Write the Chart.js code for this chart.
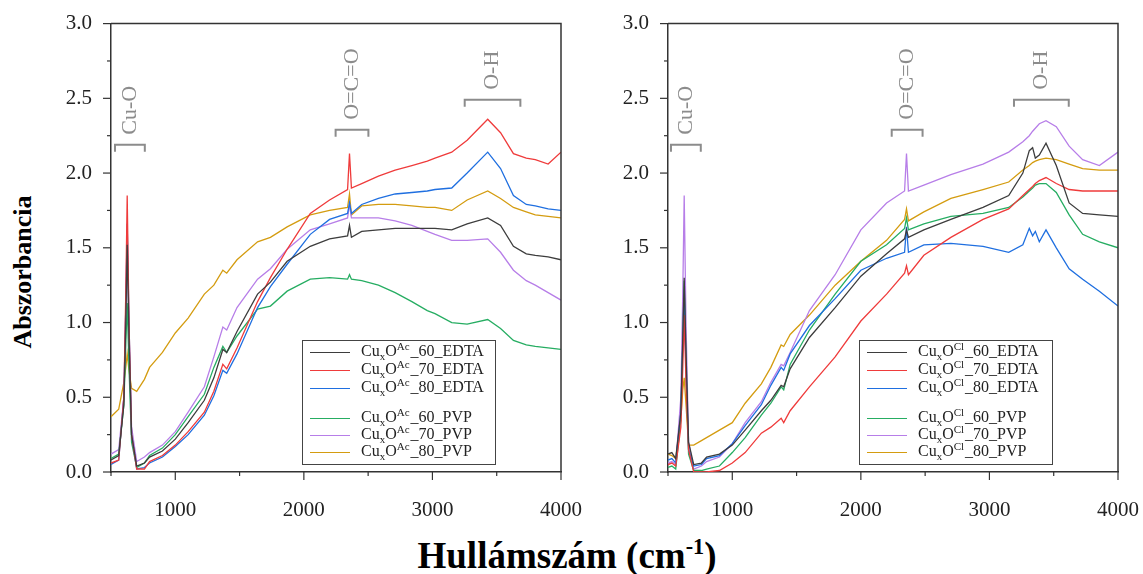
<!DOCTYPE html>
<html>
<head>
<meta charset="utf-8">
<script src="https://cdn.jsdelivr.net/npm/chart.js@4.4.0/dist/chart.umd.min.js"></script>
<style>
  body { margin: 0; background: #fff; width: 1143px; height: 574px; position: relative; overflow: hidden; font-family: "Liberation Serif", serif; }
  .panel { position: absolute; top: 0; width: 560px; height: 520px; }
  #ylab { position: absolute; left: 23px; top: 272px; transform: translate(-50%, -50%) rotate(-90deg); font-weight: bold; font-size: 26px; white-space: nowrap; }
  #xlab { position: absolute; left: 567px; top: 555px; transform: translate(-50%, -50%); font-weight: bold; font-size: 37px; white-space: nowrap; }
  #xlab sup { font-size: 60%; }
</style>
</head>
<body>
<div class="panel" style="left:40px"><canvas id="chartAc"></canvas></div>
<div class="panel" style="left:597px"><canvas id="chartCl"></canvas></div>
<div id="ylab">Abszorbancia</div>
<div id="xlab">Hullámszám (cm<sup>-1</sup>)</div>

<script>
// FTIR spectra, CuxO samples (left: acetate precursor, right: chloride precursor)

const xTicks = [1000, 2000, 3000, 4000];
const yTicks = [0, 0.5, 1.0, 1.5, 2.0, 2.5, 3.0];
const seriesNames = ['60_EDTA', '70_EDTA', '80_EDTA', '60_PVP', '70_PVP', '80_PVP'];
const seriesColors = ['#3d3d3d', '#ef3b3b', '#1f6fe0', '#26ad62', '#b77ee8', '#d49c10'];

// --- acetate panel ---
const wavenumbersAc = [500, 560, 600, 615, 626, 640, 660, 700, 760, 800, 900, 1000, 1100, 1226, 1300, 1370, 1400, 1480, 1640, 1740, 1870, 2050, 2200, 2340, 2355, 2370, 2450, 2580, 2710, 2840, 2960, 3020, 3150, 3270, 3430, 3530, 3630, 3730, 3800, 3900, 4000];
const ac60Edta = [0.08, 0.11, 0.45, 1.00, 1.52, 0.90, 0.25, 0.04, 0.06, 0.10, 0.14, 0.22, 0.33, 0.48, 0.63, 0.82, 0.80, 0.94, 1.19, 1.27, 1.41, 1.51, 1.56, 1.58, 1.65, 1.57, 1.61, 1.62, 1.63, 1.63, 1.63, 1.63, 1.62, 1.66, 1.70, 1.65, 1.51, 1.46, 1.45, 1.44, 1.42];
const ac70Edta = [0.06, 0.08, 0.50, 1.20, 1.85, 1.00, 0.25, 0.02, 0.02, 0.07, 0.11, 0.18, 0.27, 0.40, 0.54, 0.72, 0.69, 0.83, 1.14, 1.30, 1.49, 1.73, 1.82, 1.89, 2.13, 1.90, 1.93, 1.98, 2.02, 2.05, 2.08, 2.10, 2.14, 2.22, 2.36, 2.27, 2.13, 2.10, 2.09, 2.06, 2.14];
const ac80Edta = [0.05, 0.08, 0.50, 1.10, 1.66, 1.00, 0.25, 0.02, 0.03, 0.06, 0.10, 0.17, 0.25, 0.38, 0.51, 0.68, 0.66, 0.79, 1.10, 1.24, 1.39, 1.59, 1.69, 1.73, 1.80, 1.73, 1.79, 1.83, 1.86, 1.87, 1.88, 1.89, 1.90, 2.00, 2.14, 2.03, 1.85, 1.79, 1.78, 1.76, 1.75];
const ac60Pvp = [0.09, 0.12, 0.45, 0.85, 1.13, 0.70, 0.20, 0.03, 0.06, 0.11, 0.16, 0.25, 0.37, 0.52, 0.70, 0.84, 0.80, 0.91, 1.09, 1.11, 1.21, 1.29, 1.30, 1.29, 1.32, 1.29, 1.28, 1.25, 1.20, 1.14, 1.08, 1.06, 1.00, 0.99, 1.02, 0.96, 0.88, 0.85, 0.84, 0.83, 0.82];
const ac70Pvp = [0.12, 0.15, 0.50, 1.10, 1.60, 0.95, 0.30, 0.07, 0.10, 0.13, 0.18, 0.27, 0.40, 0.57, 0.77, 0.97, 0.95, 1.10, 1.29, 1.36, 1.49, 1.62, 1.66, 1.70, 1.79, 1.70, 1.70, 1.70, 1.68, 1.65, 1.61, 1.59, 1.55, 1.55, 1.56, 1.47, 1.35, 1.28, 1.25, 1.20, 1.15];
const ac80Pvp = [0.37, 0.42, 0.60, 0.70, 0.79, 0.68, 0.56, 0.54, 0.62, 0.70, 0.80, 0.93, 1.03, 1.19, 1.25, 1.35, 1.33, 1.42, 1.54, 1.57, 1.64, 1.72, 1.75, 1.77, 1.86, 1.72, 1.78, 1.79, 1.79, 1.78, 1.77, 1.77, 1.75, 1.82, 1.88, 1.83, 1.77, 1.74, 1.72, 1.71, 1.70];

// --- chloride panel ---
const wavenumbersCl = [500, 530, 560, 600, 615, 626, 640, 660, 700, 760, 800, 900, 1000, 1100, 1226, 1300, 1380, 1400, 1450, 1600, 1800, 2000, 2200, 2340, 2355, 2370, 2490, 2700, 2950, 3150, 3260, 3310, 3336, 3357, 3388, 3440, 3520, 3620, 3725, 3855, 4000];
const cl60Edta = [0.12, 0.13, 0.09, 0.40, 0.90, 1.30, 0.80, 0.20, 0.05, 0.06, 0.10, 0.12, 0.18, 0.28, 0.41, 0.48, 0.58, 0.57, 0.69, 0.90, 1.10, 1.31, 1.46, 1.56, 1.62, 1.57, 1.62, 1.69, 1.77, 1.85, 2.00, 2.15, 2.17, 2.10, 2.12, 2.20, 2.05, 1.80, 1.73, 1.72, 1.71];
const cl70Edta = [0.05, 0.06, 0.04, 0.30, 0.70, 1.05, 0.60, 0.15, 0.00, 0.00, 0.00, 0.01, 0.06, 0.13, 0.26, 0.30, 0.36, 0.33, 0.41, 0.57, 0.77, 1.01, 1.19, 1.33, 1.38, 1.32, 1.45, 1.57, 1.69, 1.76, 1.85, 1.89, 1.91, 1.93, 1.95, 1.97, 1.93, 1.89, 1.88, 1.88, 1.88];
const cl80Edta = [0.08, 0.09, 0.06, 0.40, 0.85, 1.22, 0.70, 0.15, 0.04, 0.05, 0.09, 0.11, 0.19, 0.31, 0.45, 0.58, 0.70, 0.68, 0.79, 0.98, 1.16, 1.35, 1.43, 1.47, 1.64, 1.47, 1.52, 1.53, 1.51, 1.47, 1.52, 1.63, 1.58, 1.61, 1.54, 1.62, 1.50, 1.36, 1.29, 1.21, 1.11];
const cl60Pvp = [0.03, 0.04, 0.02, 0.35, 0.85, 1.28, 0.70, 0.12, 0.01, 0.01, 0.02, 0.04, 0.13, 0.23, 0.38, 0.46, 0.57, 0.55, 0.72, 0.95, 1.19, 1.41, 1.52, 1.63, 1.70, 1.62, 1.66, 1.71, 1.73, 1.77, 1.84, 1.88, 1.90, 1.92, 1.93, 1.93, 1.87, 1.72, 1.59, 1.54, 1.50];
const cl70Pvp = [0.06, 0.07, 0.05, 0.50, 1.20, 1.85, 1.00, 0.20, 0.02, 0.04, 0.07, 0.10, 0.19, 0.33, 0.47, 0.60, 0.72, 0.71, 0.80, 1.08, 1.32, 1.62, 1.80, 1.88, 2.13, 1.88, 1.92, 1.99, 2.06, 2.14, 2.21, 2.25, 2.28, 2.30, 2.33, 2.35, 2.31, 2.18, 2.09, 2.05, 2.14];
const cl80Pvp = [0.12, 0.11, 0.09, 0.35, 0.55, 0.63, 0.45, 0.18, 0.18, 0.21, 0.23, 0.28, 0.33, 0.46, 0.59, 0.70, 0.85, 0.84, 0.92, 1.05, 1.25, 1.41, 1.55, 1.69, 1.76, 1.68, 1.74, 1.83, 1.89, 1.94, 2.02, 2.05, 2.07, 2.08, 2.09, 2.10, 2.09, 2.06, 2.03, 2.02, 2.02];

// band markers (bracket range in cm-1, bracket height in absorbance units)
const bandsAc = [
    { text: 'Cu-O', from: 531, to: 763, level: 2.19 },
    { text: 'O=C=O', from: 2247, to: 2502, level: 2.29 },
    { text: 'O-H', from: 3251, to: 3684, level: 2.49 }
];
const bandsCl = [
    { text: 'Cu-O', from: 523, to: 755, level: 2.19 },
    { text: 'O=C=O', from: 2240, to: 2480, level: 2.29 },
    { text: 'O-H', from: 3191, to: 3617, level: 2.49 }
];

const SERIF = '"Liberation Serif", "Times New Roman", serif';

// draws the top/right frame, minor+major ticks, band brackets and the legend box
const decorations = {
    id: 'decorations',
    afterDatasetsDraw(chart, args, opts) {
        const { ctx, chartArea: a, scales: { x, y } } = chart;
        ctx.save();

        ctx.strokeStyle = '#333';
        ctx.lineWidth = 1.5;
        ctx.beginPath();
        ctx.moveTo(a.left, a.top);
        ctx.lineTo(a.right, a.top);
        ctx.lineTo(a.right, a.bottom);
        ctx.stroke();

        ctx.lineWidth = 1.2;
        for (let v = 500; v <= 4000; v += 500) {
            const px = x.getPixelForValue(v);
            const len = v % 1000 === 0 ? 8 : 4;
            ctx.beginPath();
            ctx.moveTo(px, a.bottom);
            ctx.lineTo(px, a.bottom + len);
            ctx.stroke();
        }
        for (let i = 0; i <= 12; i++) {
            const v = i * 0.25;
            const py = y.getPixelForValue(v);
            const len = i % 2 === 0 ? 8 : 4;
            ctx.beginPath();
            ctx.moveTo(a.left, py);
            ctx.lineTo(a.left - len, py);
            ctx.stroke();
        }

        // band brackets
        ctx.strokeStyle = '#8c8c8c';
        ctx.fillStyle = '#8c8c8c';
        ctx.lineWidth = 2;
        ctx.font = '22px ' + SERIF;
        opts.bands.forEach(b => {
            const x1 = x.getPixelForValue(b.from);
            const x2 = x.getPixelForValue(b.to);
            const yy = y.getPixelForValue(b.level);
            ctx.beginPath();
            ctx.moveTo(x1, yy + 7);
            ctx.lineTo(x1, yy);
            ctx.lineTo(x2, yy);
            ctx.lineTo(x2, yy + 7);
            ctx.stroke();
            ctx.save();
            ctx.translate((x1 + x2) / 2, yy - 10);
            ctx.rotate(-Math.PI / 2);
            ctx.textAlign = 'left';
            ctx.textBaseline = 'middle';
            ctx.fillText(b.text, 0, 0);
            ctx.restore();
        });

        // legend
        const bw = 193, bh = 124;
        const bx = a.right - 66 - bw;
        const by = a.bottom - 8 - bh;
        ctx.fillStyle = '#fff';
        ctx.fillRect(bx, by, bw, bh);
        ctx.strokeStyle = '#444';
        ctx.lineWidth = 1;
        ctx.strokeRect(bx + 0.5, by + 0.5, bw, bh);
        const rows = [12, 30, 48, 78, 95, 112];
        ctx.textBaseline = 'middle';
        ctx.textAlign = 'left';
        seriesNames.forEach((name, i) => {
            const ry = by + rows[i];
            ctx.strokeStyle = seriesColors[i];
            ctx.lineWidth = 1;
            ctx.beginPath();
            ctx.moveTo(bx + 8, ry + 0.5);
            ctx.lineTo(bx + 48, ry + 0.5);
            ctx.stroke();

            let tx = bx + 59;
            ctx.fillStyle = '#222';
            const big = '16px ' + SERIF, small = '11px ' + SERIF;
            ctx.font = big; ctx.fillText('Cu', tx, ry); tx += ctx.measureText('Cu').width;
            ctx.font = small; ctx.fillText('x', tx, ry + 5); tx += ctx.measureText('x').width;
            ctx.font = big; ctx.fillText('O', tx, ry); tx += ctx.measureText('O').width;
            ctx.font = small; ctx.fillText(opts.sup, tx, ry - 5); tx += ctx.measureText(opts.sup).width + 1;
            ctx.font = big; ctx.fillText('_' + name, tx, ry);
        });

        ctx.restore();
    }
};

function buildPanel(canvasId, wavenumbers, series, bands, sup, rightPad) {
    const datasets = series.map((values, i) => ({
        label: 'CuxO' + sup + '_' + seriesNames[i],
        data: wavenumbers.map((w, j) => ({ x: w, y: values[j] })),
        borderColor: seriesColors[i],
        borderWidth: 1.3,
        pointRadius: 0,
        tension: 0,
        fill: false
    }));
    const tickFont = { family: SERIF, size: 21 };
    return new Chart(document.getElementById(canvasId).getContext('2d'), {
        type: 'line',
        data: { datasets: datasets },
        options: {
            responsive: true,
            maintainAspectRatio: false,
            animation: false,
            layout: { padding: { top: 20, right: rightPad, left: 0, bottom: 0 } },
            plugins: {
                legend: { display: false },
                tooltip: { enabled: false },
                decorations: { bands: bands, sup: sup }
            },
            scales: {
                x: {
                    type: 'linear',
                    min: 500,
                    max: 4000,
                    afterBuildTicks: s => { s.ticks = xTicks.map(v => ({ value: v })); },
                    afterFit: s => { s.height = 48; },
                    grid: { display: false },
                    border: { display: true, color: '#333', width: 1.5 },
                    ticks: { color: '#222', font: tickFont, padding: 18, maxRotation: 0, callback: v => String(v) }
                },
                y: {
                    type: 'linear',
                    min: 0,
                    max: 3,
                    afterBuildTicks: s => { s.ticks = yTicks.map(v => ({ value: v })); },
                    afterFit: s => { s.width = 71; },
                    grid: { display: false },
                    border: { display: true, color: '#333', width: 1.5 },
                    ticks: { color: '#222', font: tickFont, padding: 11, callback: v => Number(v).toFixed(1) }
                }
            }
        },
        plugins: [decorations]
    });
}

buildPanel('chartAc', wavenumbersAc, [ac60Edta, ac70Edta, ac80Edta, ac60Pvp, ac70Pvp, ac80Pvp], bandsAc, 'Ac', 36);
buildPanel('chartCl', wavenumbersCl, [cl60Edta, cl70Edta, cl80Edta, cl60Pvp, cl70Pvp, cl80Pvp], bandsCl, 'Cl', 37);
</script>
</body>
</html>
